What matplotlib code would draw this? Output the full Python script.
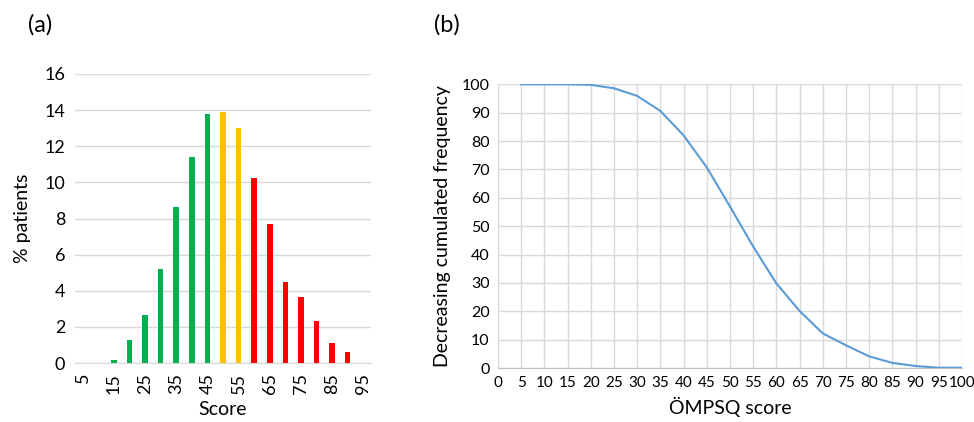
import matplotlib
matplotlib.use("Agg")
import matplotlib.pyplot as plt
import numpy as np

plt.rcParams['font.family'] = ['Lato', 'DejaVu Sans']

# Panel (a) data
score_cats = [5, 10, 15, 20, 25, 30, 35, 40, 45, 50, 55, 60, 65, 70, 75, 80, 85, 90, 95]
pct_patients = [0, 0, 0.15, 1.25, 2.68, 5.2, 8.62, 11.4, 13.76, 13.91, 13.0, 10.24, 7.71, 4.46, 3.67, 2.34, 1.09, 0.63, 0]
bar_colors = ['#00B050'] * 9 + ['#FFC000'] * 2 + ['#FF0000'] * 8
a_yticks = [0, 2, 4, 6, 8, 10, 12, 14, 16]

# Panel (b) data
ompsq_score = [5, 10, 15, 20, 25, 30, 35, 40, 45, 50, 55, 60, 65, 70, 75, 80, 85, 90, 95, 100]
dec_cum_freq = [100, 100, 100, 99.8, 98.6, 95.9, 90.6, 82.0, 70.7, 56.9, 42.8, 29.8, 20.1, 12.2, 8.0, 4.1, 1.8, 0.7, 0.1, 0.1]
b_xticks = list(range(0, 101, 5))
b_yticks = list(range(0, 101, 10))

fig = plt.figure(figsize=(9.74, 4.22), dpi=100)

grid_c = '#D9D9D9'
axis_c = '#BFBFBF'

# ---- Panel (a)
axa = fig.add_axes([75/974, 1-363/422, (371-75)/974, (363-74)/422])
xpos = np.arange(len(score_cats))
axa.bar(xpos, pct_patients, width=0.36, color=bar_colors, zorder=3)
axa.set_xlim(-0.5, len(score_cats) - 0.5)
axa.set_ylim(0, 16)
axa.set_yticks(a_yticks)
axa.set_yticklabels([str(v) for v in a_yticks], fontsize=13)
axa.set_xticks(xpos[::2])
axa.set_xticklabels([str(c) for c in score_cats[::2]], rotation=90, fontsize=13)
axa.grid(axis='y', color=grid_c, linewidth=1, zorder=0)
for s in ['top', 'right', 'left']:
    axa.spines[s].set_visible(False)
axa.spines['bottom'].set_color(grid_c)
axa.tick_params(axis='both', length=0, pad=7)
axa.set_xlabel('Score', fontsize=14, labelpad=5)
axa.set_ylabel('% patients', fontsize=14, labelpad=10)
fig.text(40/974, 1-25/422, '(a)', fontsize=17, ha='center', va='center')

# ---- Panel (b)
axb = fig.add_axes([498/974, 1-368/422, (962-498)/974, (368-84.3)/422])
axb.plot(ompsq_score, dec_cum_freq, color='#5B9BD5', linewidth=1.5, zorder=3)
axb.set_xlim(0, 100)
axb.set_ylim(0, 100)
axb.set_xticks(b_xticks)
axb.set_xticklabels([str(v) for v in b_xticks], fontsize=11)
axb.set_yticks(b_yticks)
axb.set_yticklabels([str(v) for v in b_yticks], fontsize=11.5)
axb.grid(True, color=grid_c, linewidth=1, zorder=0)
for s in ['top', 'right']:
    axb.spines[s].set_visible(False)
axb.spines['left'].set_color(grid_c)
axb.spines['bottom'].set_color(axis_c)
axb.tick_params(axis='both', length=0, pad=6)
axb.set_xlabel('ÖMPSQ score', fontsize=14, labelpad=5)
axb.set_ylabel('Decreasing cumulated frequency', fontsize=14, labelpad=8)
fig.text(447/974, 1-25/422, '(b)', fontsize=17, ha='center', va='center')

fig.savefig('out.png', dpi=100)
